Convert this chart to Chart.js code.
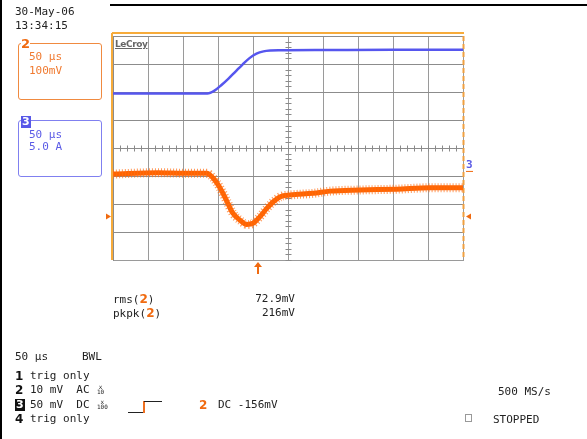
<!DOCTYPE html>
<html>
<head>
<meta charset="utf-8">
<script src="https://cdn.jsdelivr.net/npm/chart.js@4.4.1/dist/chart.umd.min.js"></script>
<style>
body { margin: 0; background: #fff; }
#wrap { position: relative; width: 587px; height: 439px; overflow: hidden; font-family: "DejaVu Sans Mono", monospace; font-size: 11px; color: #222; }
#wrap canvas { position: absolute; left: 0; top: 0; }
.t { position: absolute; line-height: 12px; white-space: pre; }
.o { color: #f06a10; font-weight: bold; font-family: "DejaVu Sans", sans-serif; font-size: 12px; }
.k { font-weight: bold; font-family: "DejaVu Sans", sans-serif; font-size: 12px; color: #111; }
.inv { background: #111; color: #fff; font-weight: bold; font-family: "DejaVu Sans", sans-serif; font-size: 11px; padding: 0 1px; }
.box { position: absolute; border-radius: 3px; }
.tiny { position: absolute; font-size: 6px; line-height: 5px; text-align: center; }
.ln { position: absolute; }
</style>
</head>
<body>
<div id="wrap">
  <canvas id="scope" width="587" height="439"></canvas>

  <div class="ln" style="left:0;top:0;width:2px;height:439px;background:#000"></div>
  <div class="ln" style="left:110px;top:4px;width:477px;height:2px;background:#000"></div>

  <div class="t" style="left:15px;top:6px">30-May-06</div>
  <div class="t" style="left:15px;top:20px">13:34:15</div>

  <div class="box" style="left:18px;top:43px;width:82px;height:55px;border:1px solid #f08a40"></div>
  <div class="t o" style="left:21px;top:38px;background:#fff;font-size:13px">2</div>
  <div class="t" style="left:29px;top:51px;color:#f07a30">50 µs</div>
  <div class="t" style="left:29px;top:65px;color:#f07a30">100mV</div>

  <div class="box" style="left:18px;top:120px;width:82px;height:55px;border:1px solid #8080f0"></div>
  <div class="t" style="left:21px;top:116px;background:#5858e8;color:#fff;font-weight:bold;font-family:'DejaVu Sans',sans-serif;font-size:11px;padding:0 1px">3</div>
  <div class="t" style="left:29px;top:129px;color:#5a5ae6">50 µs</div>
  <div class="t" style="left:29px;top:141px;color:#5a5ae6">5.0 A</div>

  <div class="t" style="left:115px;top:38px;font-family:'DejaVu Sans',sans-serif;font-weight:bold;font-size:9px;letter-spacing:-0.4px;color:#666;text-decoration:underline">LeCroy</div>

  <div class="t" style="left:113px;top:293px">rms(<span class="o">2</span>)</div>
  <div class="t" style="left:113px;top:307px">pkpk(<span class="o">2</span>)</div>
  <div class="t" style="right:292px;top:293px">72.9mV</div>
  <div class="t" style="right:292px;top:307px">216mV</div>

  <div class="t" style="left:15px;top:351px">50 µs</div>
  <div class="t" style="left:82px;top:351px">BWL</div>

  <div class="t k" style="left:15px;top:370px">1</div>
  <div class="t" style="left:30px;top:370px">trig only</div>
  <div class="t k" style="left:15px;top:384px">2</div>
  <div class="t" style="left:30px;top:384px">10 mV  AC</div>
  <div class="tiny" style="left:97px;top:384px">x<br>10</div>
  <div class="t inv" style="left:15px;top:399px">3</div>
  <div class="t" style="left:30px;top:399px">50 mV  DC</div>
  <div class="tiny" style="left:97px;top:399px">x<br>100</div>
  <div class="t k" style="left:15px;top:413px">4</div>
  <div class="t" style="left:30px;top:413px">trig only</div>

  <div class="ln" style="left:128px;top:412px;width:16px;height:1px;background:#222"></div>
  <div class="ln" style="left:143px;top:401px;width:2px;height:12px;background:#f07020"></div>
  <div class="ln" style="left:144px;top:401px;width:18px;height:1px;background:#222"></div>
  <div class="t o" style="left:199px;top:399px">2</div>
  <div class="t" style="left:218px;top:399px">DC -156mV</div>

  <div class="t" style="left:498px;top:386px">500 MS/s</div>
  <div class="ln" style="left:465px;top:414px;width:5px;height:6px;border:1px solid #999"></div>
  <div class="t" style="left:493px;top:414px">STOPPED</div>
</div>

<script>
// channel 3 (blue, current) - time in us, level in divisions
const ch3Time = [-250, -180, -115, -105, -95, -85, -75, -65, -55, -45, -35, -25, -10, 60, 150, 250];
const ch3Div  = [1.95, 1.95, 1.95, 2.05, 2.25, 2.48, 2.73, 2.98, 3.21, 3.37, 3.45, 3.48, 3.49, 3.50, 3.51, 3.51];

// channel 2 (orange, voltage)
const ch2Time = [-250, -185, -150, -116, -107, -97, -87, -79, -69, -59, -50, -40, -30, -21, -11, 3, 36, 60, 103, 155, 203, 250];
const ch2Div  = [-0.93, -0.88, -0.90, -0.90, -1.07, -1.43, -1.92, -2.32, -2.57, -2.73, -2.69, -2.45, -2.15, -1.92, -1.74, -1.68, -1.62, -1.54, -1.50, -1.47, -1.42, -1.42];

// markers
const triggerTime = -43;
const ch2Offset = -2.45;
const ch3Marker = -0.64;

function pts(xs, ys) {
    return xs.map((t, i) => ({ x: t, y: ys[i] }));
}

const scopeMarks = {
    id: 'scopeMarks',
    beforeDatasetsDraw(chart) {
        const { ctx, chartArea: a, scales: { x, y } } = chart;
        ctx.save();
        // minor ticks on the centre lines
        ctx.strokeStyle = '#8a8a8a';
        ctx.lineWidth = 1;
        const cx = Math.round(x.getPixelForValue(0)) + 0.5;
        const cy = Math.round(y.getPixelForValue(0)) + 0.5;
        ctx.beginPath();
        for (let t = -250; t <= 250; t += 10) {
            const px = Math.round(x.getPixelForValue(t)) + 0.5;
            ctx.moveTo(px, cy - 3); ctx.lineTo(px, cy + 3);
        }
        for (let k = -20; k <= 20; k++) {
            const py = Math.round(y.getPixelForValue(k / 5)) + 0.5;
            ctx.moveTo(cx - 3, py); ctx.lineTo(cx + 3, py);
        }
        ctx.stroke();
        // orange frame
        ctx.strokeStyle = '#f7ab3a';
        ctx.lineWidth = 2;
        ctx.beginPath();
        ctx.moveTo(a.left - 1, a.top - 3); ctx.lineTo(a.right + 1, a.top - 3);
        ctx.moveTo(a.left - 1, a.top - 3); ctx.lineTo(a.left - 1, a.bottom);
        ctx.stroke();
        ctx.setLineDash([5, 3]);
        ctx.strokeStyle = '#f0a040';
        ctx.beginPath();
        ctx.moveTo(a.right + 0.5, a.top); ctx.lineTo(a.right + 0.5, a.bottom);
        ctx.stroke();
        ctx.restore();
    },
    afterDatasetsDraw(chart) {
        const { ctx, chartArea: a, scales: { x, y } } = chart;
        ctx.save();
        ctx.fillStyle = '#f06a10';
        ctx.strokeStyle = '#f06a10';
        // ch2 offset markers
        const oy = y.getPixelForValue(ch2Offset);
        ctx.beginPath();
        ctx.moveTo(a.left - 7, oy - 3); ctx.lineTo(a.left - 2, oy); ctx.lineTo(a.left - 7, oy + 3);
        ctx.fill();
        ctx.beginPath();
        ctx.moveTo(a.right + 8, oy - 3); ctx.lineTo(a.right + 3, oy); ctx.lineTo(a.right + 8, oy + 3);
        ctx.fill();
        // trigger arrow
        const tx = Math.round(x.getPixelForValue(triggerTime));
        ctx.lineWidth = 2;
        ctx.beginPath();
        ctx.moveTo(tx, a.bottom + 5); ctx.lineTo(tx, a.bottom + 14);
        ctx.stroke();
        ctx.beginPath();
        ctx.moveTo(tx - 4, a.bottom + 7); ctx.lineTo(tx, a.bottom + 2); ctx.lineTo(tx + 4, a.bottom + 7);
        ctx.fill();
        // ch3 marker
        const my = y.getPixelForValue(ch3Marker);
        ctx.fillStyle = '#5a5ae6';
        ctx.font = 'bold 11px "DejaVu Sans Mono"';
        ctx.textBaseline = 'middle';
        ctx.fillText('3', a.right + 3, my - 1);
        ctx.fillStyle = '#f06a10';
        ctx.fillRect(a.right + 3, my + 5, 7, 1);
        ctx.restore();
    }
};

new Chart(document.getElementById('scope'), {
    type: 'scatter',
    data: {
        datasets: [
            {
                data: pts(ch3Time, ch3Div),
                showLine: true,
                borderColor: '#5656ee',
                borderWidth: 2.5,
                pointRadius: 0,
                cubicInterpolationMode: 'monotone'
            },
            {
                // noise fuzz around the ch2 trace
                data: pts(ch2Time, ch2Div),
                showLine: true,
                borderColor: 'rgba(255,110,20,0.7)',
                borderWidth: 9,
                borderDash: [1, 2],
                borderCapStyle: 'butt',
                pointRadius: 0,
                cubicInterpolationMode: 'monotone'
            },
            {
                data: pts(ch2Time, ch2Div),
                showLine: true,
                borderColor: '#ff6400',
                borderWidth: 5,
                pointRadius: 0,
                cubicInterpolationMode: 'monotone'
            }
        ]
    },
    options: {
        responsive: false,
        animation: false,
        layout: { padding: { left: 113, top: 36, right: 124, bottom: 179 } },
        plugins: { legend: { display: false }, tooltip: { enabled: false } },
        scales: {
            x: {
                type: 'linear', min: -250, max: 250,
                ticks: { display: false, stepSize: 50 },
                grid: { color: '#9a9a9a', drawTicks: false, lineWidth: 1 },
                border: { display: true, color: '#9a9a9a' }
            },
            y: {
                type: 'linear', min: -4, max: 4,
                ticks: { display: false, stepSize: 1 },
                grid: { color: '#8c8c8c', drawTicks: false, lineWidth: 1 },
                border: { display: true, color: '#8c8c8c' }
            }
        }
    },
    plugins: [scopeMarks]
});
</script>
</body>
</html>
